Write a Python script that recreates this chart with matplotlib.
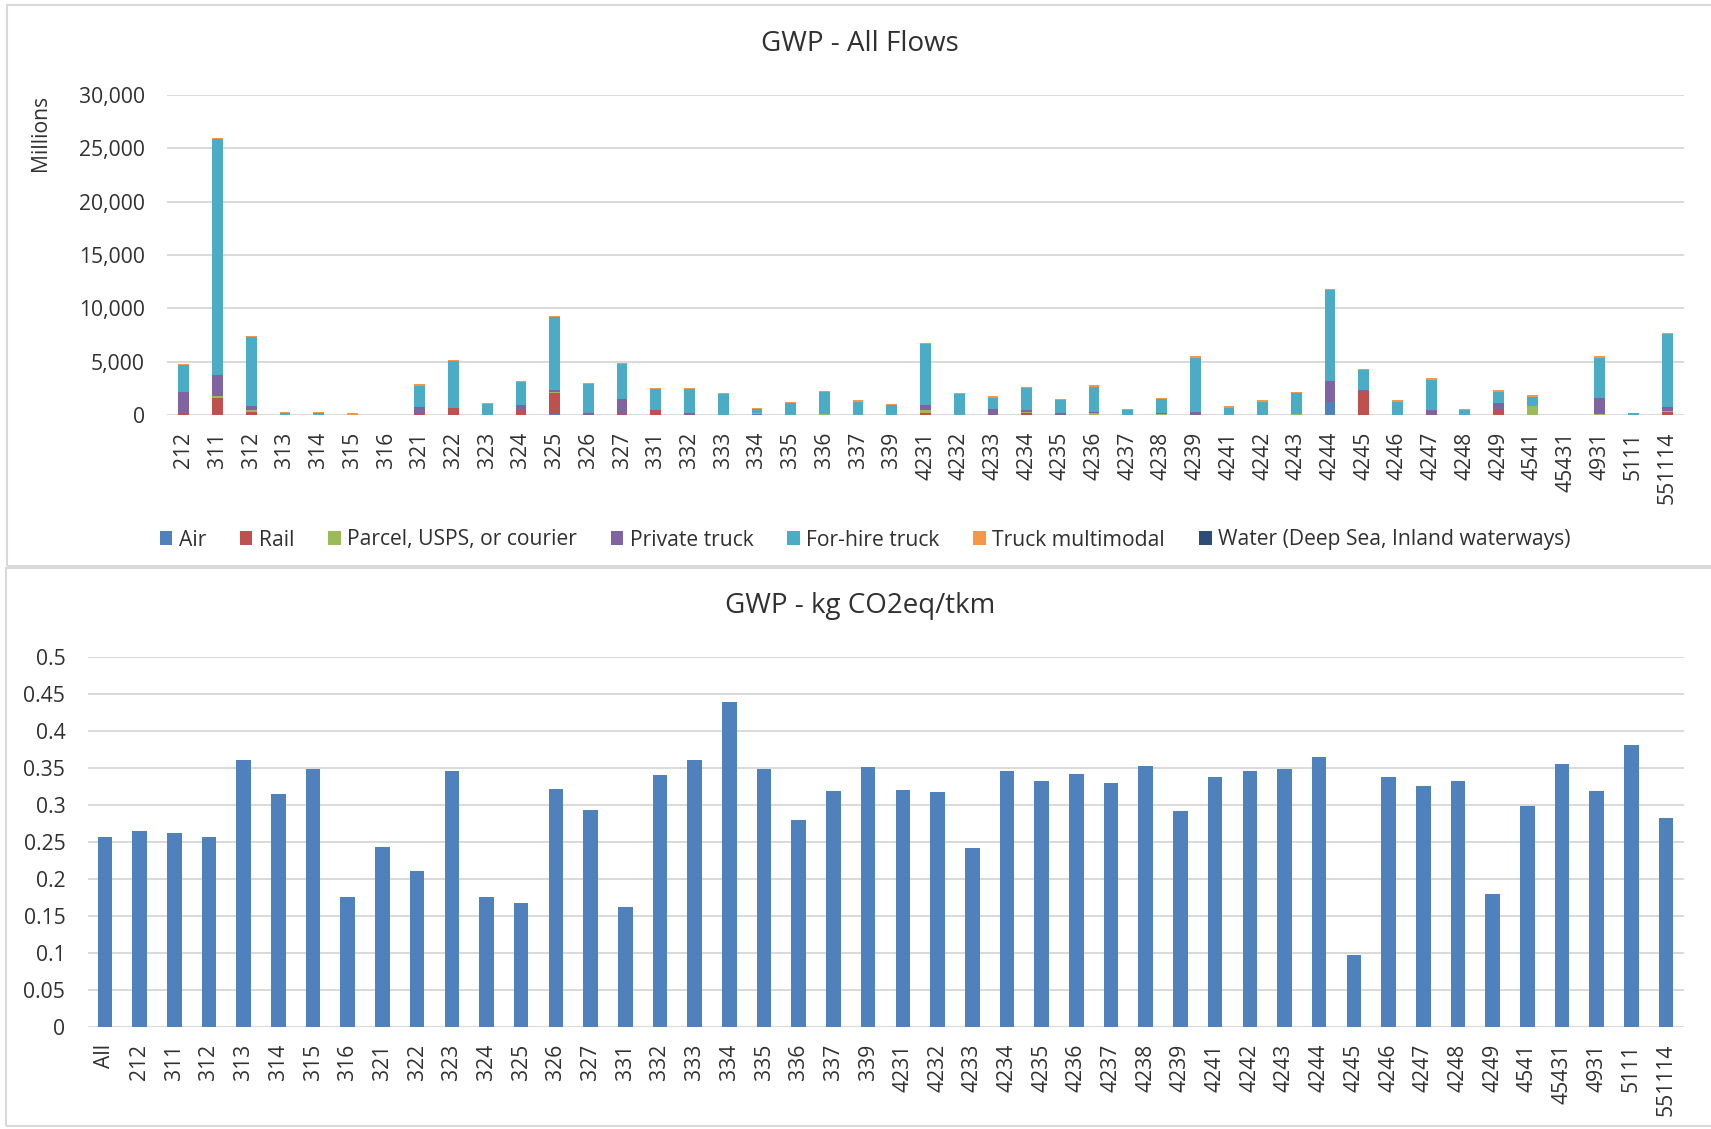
"""
GWP by NAICS code: stacked mode totals (top) and intensity per tkm (bottom)
"""
import numpy as np
import matplotlib
matplotlib.use("Agg")
import matplotlib.pyplot as plt
from matplotlib.patches import Rectangle
from matplotlib.ticker import FuncFormatter, MultipleLocator

plt.rcParams["font.family"] = ["Open Sans", "DejaVu Sans"]

# 数据 - top chart (Millions)
codes = ["212", "311", "312", "313", "314", "315", "316", "321", "322", "323",
         "324", "325", "326", "327", "331", "332", "333", "334", "335", "336",
         "337", "339", "4231", "4232", "4233", "4234", "4235", "4236", "4237", "4238",
         "4239", "4241", "4242", "4243", "4244", "4245", "4246", "4247", "4248", "4249",
         "4541", "45431", "4931", "5111", "551114"]

air      = [0, 0, 0, 0, 0, 0, 0, 0, 0, 0,
            0, 90, 0, 0, 0, 0, 0, 60, 0, 0,
            0, 0, 0, 0, 0, 0, 0, 0, 0, 0,
            0, 0, 0, 0, 1190, 0, 0, 0, 0, 0,
            0, 0, 0, 0, 0]
rail     = [150, 1620, 310, 0, 0, 0, 0, 100, 620, 0,
            470, 1940, 0, 90, 470, 0, 0, 0, 0, 0,
            0, 0, 150, 0, 0, 150, 0, 0, 0, 0,
            0, 0, 0, 0, 0, 2280, 0, 0, 0, 470,
            0, 0, 0, 0, 250]
parcel   = [0, 190, 150, 0, 0, 0, 0, 0, 0, 0,
            0, 150, 0, 0, 0, 0, 0, 120, 0, 90,
            0, 0, 280, 0, 0, 150, 0, 150, 0, 90,
            0, 0, 0, 120, 0, 0, 0, 0, 0, 0,
            810, 0, 120, 0, 100]
private  = [2000, 1940, 340, 0, 0, 0, 0, 690, 60, 0,
            440, 190, 150, 1400, 0, 220, 0, 0, 0, 0,
            0, 0, 500, 0, 560, 150, 150, 100, 0, 120,
            310, 0, 0, 0, 2030, 100, 0, 470, 0, 660,
            0, 0, 1470, 0, 440]
for_hire = [2500, 22090, 6500, 180, 180, 30, 0, 1970, 4340, 1030,
            2190, 6780, 2750, 3310, 1940, 2190, 1970, 400, 1125, 2060,
            1250, 940, 5720, 1970, 1060, 2060, 1250, 2400, 470, 1280,
            5060, 690, 1250, 1900, 8470, 1840, 1250, 2840, 470, 1060,
            910, 0, 3780, 150, 6780]
multi    = [120, 100, 100, 80, 80, 150, 20, 100, 125, 100,
            100, 120, 100, 100, 130, 130, 100, 80, 100, 130,
            130, 100, 100, 130, 130, 130, 130, 120, 100, 120,
            130, 120, 120, 120, 100, 120, 120, 120, 100, 130,
            120, 0, 130, 80, 100]
water    = [0] * 45

modes = [
    ("Air", air, "#4F81BD"),
    ("Rail", rail, "#C0504D"),
    ("Parcel, USPS, or courier", parcel, "#9BBB59"),
    ("Private truck", private, "#8064A2"),
    ("For-hire truck", for_hire, "#4BACC6"),
    ("Truck multimodal", multi, "#F79646"),
    ("Water (Deep Sea, Inland waterways)", water, "#2C4D75"),
]

# 数据 - bottom chart (kg CO2eq/tkm)
codes2 = ["All"] + codes
intensity = [0.257, 0.264, 0.262, 0.256, 0.360, 0.315, 0.348, 0.175, 0.243, 0.211,
             0.345, 0.175, 0.168, 0.321, 0.293, 0.162, 0.340, 0.360, 0.439, 0.348,
             0.280, 0.318, 0.351, 0.320, 0.317, 0.242, 0.346, 0.332, 0.342, 0.330,
             0.353, 0.292, 0.338, 0.346, 0.348, 0.364, 0.097, 0.338, 0.325, 0.332,
             0.180, 0.299, 0.355, 0.318, 0.381, 0.282]

W, H = 1711, 1129
TXT = "#303030"
GRID = "#D9D9D9"
FS = 15.2

fig = plt.figure(figsize=(W / 100, H / 100), dpi=100)

# panel frames (Excel chart areas)
fig.patches.append(Rectangle((7 / W, 1 - 566 / H), 1.0, 561 / H, transform=fig.transFigure,
                             fill=False, edgecolor=GRID, lw=1.5))
fig.patches.append(Rectangle((6 / W, 1 - 1126 / H), 1.0, 558 / H, transform=fig.transFigure,
                             fill=False, edgecolor=GRID, lw=1.5))


def style(ax):
    for s in ax.spines.values():
        s.set_visible(False)
    ax.grid(axis="y", color=GRID, lw=1.4)
    ax.set_axisbelow(True)
    ax.tick_params(length=0, labelsize=FS, colors=TXT)
    ax.tick_params(axis="x", rotation=90, pad=12)
    ax.tick_params(axis="y", pad=16)


# ========== top ==========
ax1 = fig.add_axes([167 / W, 1 - 415 / H, (1684 - 167) / W, 320 / H])
x = np.arange(len(codes))
bottom = np.zeros(len(codes))
for name, vals, col in modes:
    ax1.bar(x, vals, 0.32, bottom=bottom, color=col, label=name, zorder=3)
    bottom += np.array(vals)
ax1.set_xlim(-0.5, len(codes) - 0.5)
ax1.set_ylim(0, 30000)
ax1.yaxis.set_major_locator(MultipleLocator(5000))
ax1.yaxis.set_major_formatter(FuncFormatter(lambda v, p: f"{v:,.0f}"))
ax1.set_xticks(x)
ax1.set_xticklabels(codes)
style(ax1)

fig.text(860 / W, 1 - 44 / H, "GWP - All Flows", ha="center", va="center", fontsize=20, color=TXT)
fig.text(41 / W, 1 - 133 / H, "Millions", rotation=90, ha="center", va="center", fontsize=FS, color=TXT)

fig.legend(loc="center", bbox_to_anchor=(865 / W, 1 - 540 / H), ncol=7, frameon=False,
           fontsize=FS, handlelength=0.6, handleheight=0.6, handletextpad=0.3,
           columnspacing=1.6, labelcolor=TXT)

# ========== bottom ==========
ax2 = fig.add_axes([87.5 / W, 1 - 1027 / H, (1683.5 - 87.5) / W, 370.3 / H])
x2 = np.arange(len(codes2))
ax2.bar(x2, intensity, 0.42, color="#4F81BD", zorder=3)
ax2.set_xlim(-0.5, len(codes2) - 0.5)
ax2.set_ylim(0, 0.5)
ax2.yaxis.set_major_locator(MultipleLocator(0.05))
ax2.yaxis.set_major_formatter(FuncFormatter(lambda v, p: f"{round(v, 2):g}"))
ax2.set_xticks(x2)
ax2.set_xticklabels(codes2)
style(ax2)

fig.text(860 / W, 1 - 606 / H, "GWP - kg CO2eq/tkm", ha="center", va="center", fontsize=20, color=TXT)

fig.savefig("out.png", dpi=100, facecolor="white")
